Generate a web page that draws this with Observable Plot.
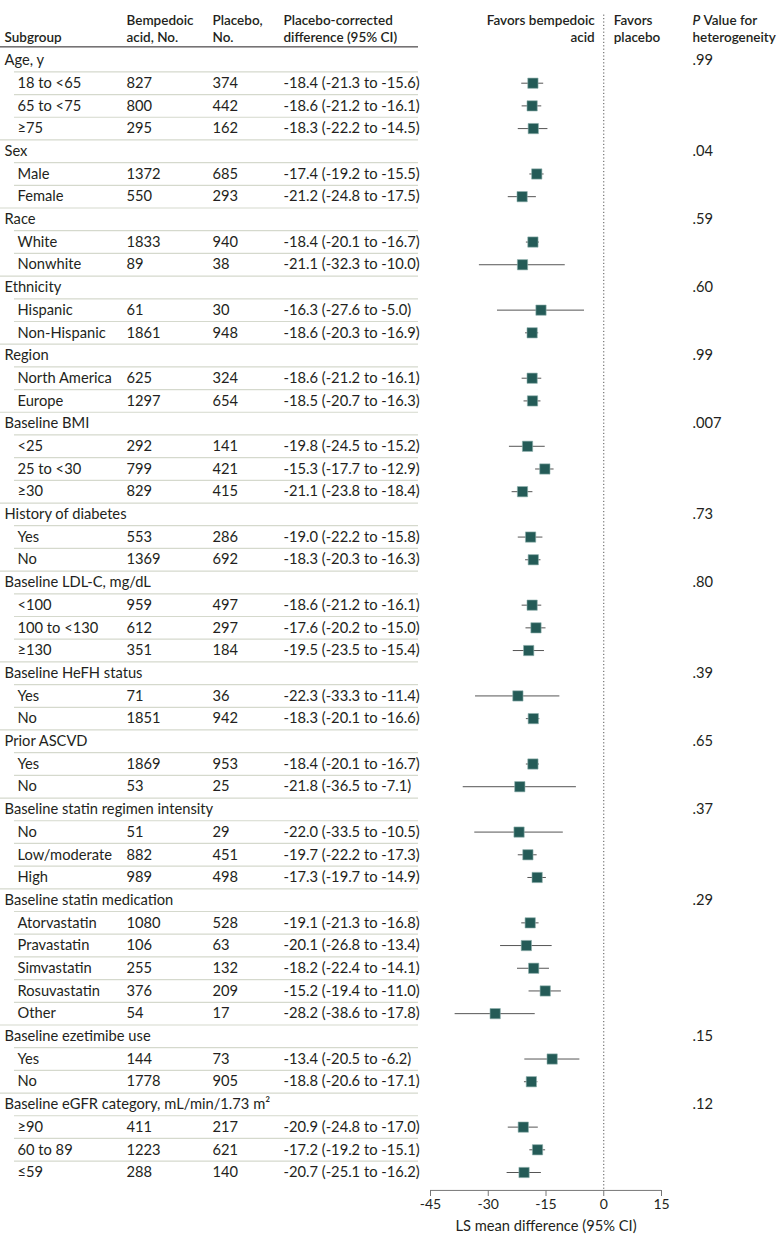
<!DOCTYPE html>
<html><head><meta charset="utf-8">
<script src="https://cdn.jsdelivr.net/npm/d3@7"></script>
<script src="https://cdn.jsdelivr.net/npm/@observablehq/plot@0.6"></script>
<style>body{margin:0;background:#fff;}</style>
</head><body><div id="chart"></div>
<script>
const groupNames = ["Age, y","Sex","Race","Ethnicity","Region","Baseline BMI","History of diabetes","Baseline LDL-C, mg/dL","Baseline HeFH status","Prior ASCVD","Baseline statin regimen intensity","Baseline statin medication","Baseline ezetimibe use","Baseline eGFR category, mL/min/1.73 m\u00B2"];
const groupP = [".99",".04",".59",".60",".99",".007",".73",".80",".39",".65",".37",".29",".15",".12"];
const subgroupNames = [
  ["18 to <65","65 to <75","\u226575"],
  ["Male","Female"],
  ["White","Nonwhite"],
  ["Hispanic","Non-Hispanic"],
  ["North America","Europe"],
  ["<25","25 to <30","\u226530"],
  ["Yes","No"],
  ["<100","100 to <130","\u2265130"],
  ["Yes","No"],
  ["Yes","No"],
  ["No","Low/moderate","High"],
  ["Atorvastatin","Pravastatin","Simvastatin","Rosuvastatin","Other"],
  ["Yes","No"],
  ["\u226590","60 to 89","\u226459"]
];
const bempedoicN = [827,800,295, 1372,550, 1833,89, 61,1861, 625,1297, 292,799,829, 553,1369, 959,612,351, 71,1851, 1869,53, 51,882,989, 1080,106,255,376,54, 144,1778, 411,1223,288];
const placeboN   = [374,442,162, 685,293, 940,38, 30,948, 324,654, 141,421,415, 286,692, 497,297,184, 36,942, 953,25, 29,451,498, 528,63,132,209,17, 73,905, 217,621,140];
const estimate   = [-18.4,-18.6,-18.3, -17.4,-21.2, -18.4,-21.1, -16.3,-18.6, -18.6,-18.5, -19.8,-15.3,-21.1, -19.0,-18.3, -18.6,-17.6,-19.5, -22.3,-18.3, -18.4,-21.8, -22.0,-19.7,-17.3, -19.1,-20.1,-18.2,-15.2,-28.2, -13.4,-18.8, -20.9,-17.2,-20.7];
const ciLow      = [-21.3,-21.2,-22.2, -19.2,-24.8, -20.1,-32.3, -27.6,-20.3, -21.2,-20.7, -24.5,-17.7,-23.8, -22.2,-20.3, -21.2,-20.2,-23.5, -33.3,-20.1, -20.1,-36.5, -33.5,-22.2,-19.7, -21.3,-26.8,-22.4,-19.4,-38.6, -20.5,-20.6, -24.8,-19.2,-25.1];
const ciHigh     = [-15.6,-16.1,-14.5, -15.5,-17.5, -16.7,-10.0, -5.0,-16.9, -16.1,-16.3, -15.2,-12.9,-18.4, -15.8,-16.3, -16.1,-15.0,-15.4, -11.4,-16.6, -16.7,-7.1, -10.5,-17.3,-14.9, -16.8,-13.4,-14.1,-11.0,-17.8, -6.2,-17.1, -17.0,-15.1,-16.2];
const xTicks = [-45,-30,-15,0,15];

const fmt = v => (v < 0 ? "-" : "") + Math.abs(v).toFixed(1);
const rows = [];
let k = 0;
groupNames.forEach((g, gi) => {
  rows.push({row: rows.length, label: g, group: true, p: groupP[gi]});
  subgroupNames[gi].forEach(s => {
    rows.push({row: rows.length, label: s, group: false, bN: bempedoicN[k], pN: placeboN[k],
      est: estimate[k], lo: ciLow[k], hi: ciHigh[k],
      ci: `${fmt(estimate[k])} (${fmt(ciLow[k])} to ${fmt(ciHigh[k])})`});
    k++;
  });
});
const groups = rows.filter(d => d.group);
const subs = rows.filter(d => !d.group);
const sepFull = rows.slice(1).filter(d => d.group).map(d => d.row - 0.5);
const sepIndent = rows.slice(1).filter(d => !d.group).map(d => d.row - 0.5);

const FONT = "Lato, 'Open Sans', sans-serif";
const FS = 14.7;
const HFS = 13.5;
const TXT = "#231f20";
const L = {frameAnchor: "left", textAnchor: "start", fontSize: FS, fill: TXT};
const HL = {frameAnchor: "left", textAnchor: "start", fontSize: HFS, fill: TXT, fontWeight: 600};
const H1 = -1.76, H2 = -0.99;

const chart = Plot.plot({
  width: 780, height: 1243,
  marginTop: 0, marginLeft: 0, marginRight: 0, marginBottom: 53,
  style: {fontFamily: FONT, fontSize: "14px", background: "#fff"},
  x: {domain: [-45, 15], range: [430, 661], axis: null},
  y: {domain: [0, 49], range: [60, 1172], axis: null},
  marks: [
    // separators
    Plot.ruleY(sepFull, {stroke: "#d5d9cd", strokeWidth: 1.2, insetRight: 362}),
    Plot.ruleY(sepIndent, {stroke: "#d5d9cd", strokeWidth: 1.2, insetLeft: 14, insetRight: 362}),
    Plot.ruleY([-0.6], {stroke: "#231f20", strokeWidth: 1, insetRight: 362}),
    // headers
    Plot.text(["Subgroup"], {...HL, y: () => H2, dx: 4}),
    Plot.text(["Bempedoic"], {...HL, y: () => H1, dx: 126}),
    Plot.text(["acid, No."], {...HL, y: () => H2, dx: 126}),
    Plot.text(["Placebo,"], {...HL, y: () => H1, dx: 212}),
    Plot.text(["No."], {...HL, y: () => H2, dx: 212}),
    Plot.text(["Placebo-corrected"], {...HL, y: () => H1, dx: 283}),
    Plot.text(["difference (95% CI)"], {...HL, y: () => H2, dx: 283}),
    Plot.text(["Favors bempedoic"], {x: () => 0, y: () => H1, dx: -9, textAnchor: "end", fontSize: HFS, fill: TXT, fontWeight: 600}),
    Plot.text(["acid"], {x: () => 0, y: () => H2, dx: -9, textAnchor: "end", fontSize: HFS, fill: TXT, fontWeight: 600}),
    Plot.text(["Favors"], {x: () => 0, y: () => H1, dx: 10, textAnchor: "start", fontSize: HFS, fill: TXT, fontWeight: 600}),
    Plot.text(["placebo"], {x: () => 0, y: () => H2, dx: 10, textAnchor: "start", fontSize: HFS, fill: TXT, fontWeight: 600}),
    Plot.text(["P"], {...HL, y: () => H1, dx: 692, fontStyle: "italic"}),
    Plot.text(["Value for"], {...HL, y: () => H1, dx: 703}),
    Plot.text(["heterogeneity"], {...HL, y: () => H2, dx: 692}),
    // table body
    Plot.text(groups, {...L, y: "row", text: "label", dx: 4}),
    Plot.text(groups, {...L, y: "row", text: "p", dx: 692}),
    Plot.text(subs, {...L, y: "row", text: "label", dx: 17}),
    Plot.text(subs, {...L, y: "row", text: d => String(d.bN), dx: 126}),
    Plot.text(subs, {...L, y: "row", text: d => String(d.pN), dx: 212}),
    Plot.text(subs, {...L, y: "row", text: "ci", dx: 283}),
    // reference line
    Plot.ruleX([0], {y1: -2, y2: 49.79, stroke: "#555", strokeWidth: 1, strokeDasharray: "1.2,2.2"}),
    // CIs and estimates
    Plot.ruleY(subs, {y: "row", x1: "lo", x2: "hi", stroke: "#555", strokeWidth: 1}),
    Plot.dot(subs, {y: "row", x: "est", symbol: "square", r: 5.8, fill: "#245b57", stroke: "#8fb0ac", strokeWidth: 0.6}),
    // axis
    Plot.ruleY([49.79], {x1: -45, x2: 15, stroke: "#777", strokeWidth: 1}),
    Plot.axisX(xTicks, {tickSize: 6, tickPadding: 3, fontSize: 14, stroke: "#777", fill: TXT, label: null, tickFormat: d => String(d)}),
    Plot.text(["LS mean difference (95% CI)"], {x: () => -15, y: () => 51.35, fontSize: FS, fill: TXT})
  ]
});
document.getElementById("chart").appendChild(chart);
</script>
</body></html>
